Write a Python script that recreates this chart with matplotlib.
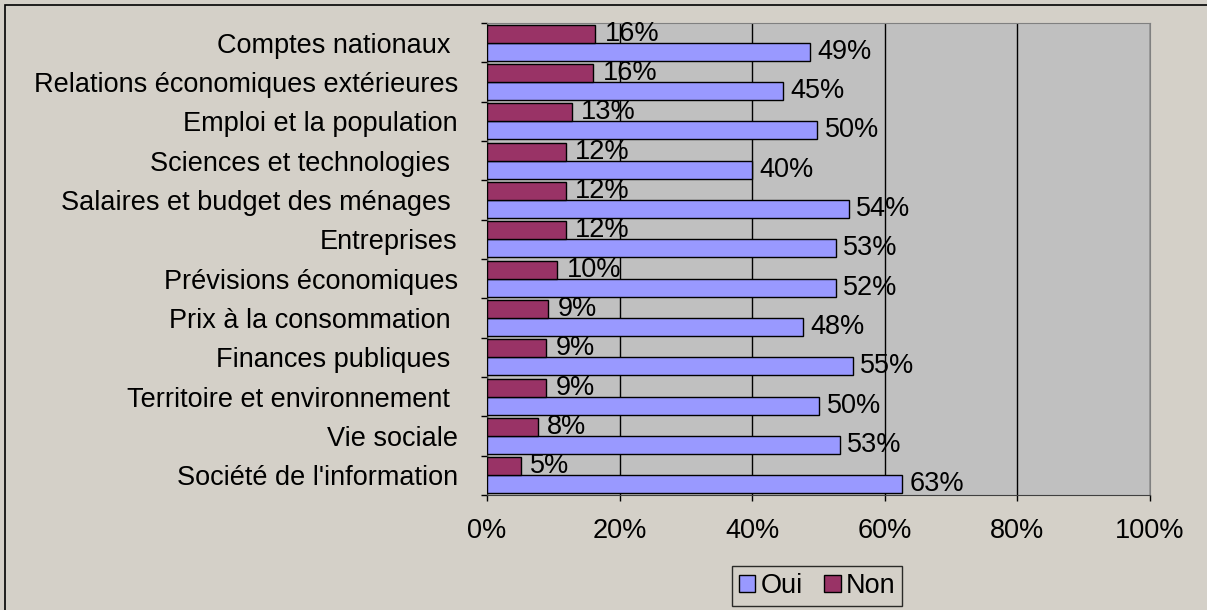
import matplotlib.pyplot as plt
from matplotlib.patches import Rectangle
import numpy as np

plt.rcParams['font.family'] = ['Liberation Sans', 'DejaVu Sans']

categories = ["Comptes nationaux ", "Relations économiques extérieures", "Emploi et la population",
              "Sciences et technologies ", "Salaires et budget des ménages ", "Entreprises",
              "Prévisions économiques", "Prix à la consommation ", "Finances publiques ",
              "Territoire et environnement ", "Vie sociale", "Société de l'information"]
oui = [48.7, 44.6, 49.8, 40.0, 54.6, 52.6, 52.6, 47.7, 55.2, 50.1, 53.2, 62.6]
non = [16.3, 16.0, 12.8, 11.9, 11.9, 11.9, 10.6, 9.2, 8.9, 8.9, 7.7, 5.1]
oui_labels = [49, 45, 50, 40, 54, 53, 52, 48, 55, 50, 53, 63]
non_labels = [16, 16, 13, 12, 12, 12, 10, 9, 9, 9, 8, 5]

fs = 19.5

fig = plt.figure(figsize=(12.07, 6.10), dpi=100, facecolor="#D4D0C8")
ax = fig.add_axes([0.4035, 0.1885, 0.5493, 0.7738])
ax.set_facecolor("#C0C0C0")

y = np.arange(len(categories))
h = 0.46
b_oui = ax.barh(y + h / 2, oui, height=h, color="#9999FF", edgecolor="black", linewidth=1, label="Oui", zorder=3)
b_non = ax.barh(y - h / 2, non, height=h, color="#993366", edgecolor="black", linewidth=1, label="Non", zorder=3)

for i in range(len(categories)):
    ax.text(oui[i] + 1.1, y[i] + h / 2, f"{oui_labels[i]}%", va="center", ha="left", fontsize=fs, zorder=4)
    ax.text(non[i] + 1.4, y[i] - h / 2, f"{non_labels[i]}%", va="center", ha="left", fontsize=fs, zorder=4)

ax.set_xlim(0, 100)
ax.set_ylim(len(categories) - 0.5, -0.5)
ax.set_xticks([0, 20, 40, 60, 80, 100])
ax.set_xticklabels(["0%", "20%", "40%", "60%", "80%", "100%"], fontsize=fs)
ax.set_yticks(np.arange(len(categories) + 1) - 0.5, minor=True)
ax.set_yticks(y)
ax.set_yticklabels(categories, fontsize=fs)
ax.tick_params(axis="y", which="major", length=0, pad=21)
ax.tick_params(axis="y", which="minor", length=4, width=1, color="black")
ax.tick_params(axis="x", length=4.3, width=1, pad=12, color="black")
ax.xaxis.grid(True, color="black", linewidth=1, zorder=1)
ax.set_axisbelow(True)

for side in ["top", "right"]:
    ax.spines[side].set_color("#808080")
for side in ["left", "bottom"]:
    ax.spines[side].set_color("#404040")

leg = fig.legend(handles=[b_oui, b_non], labels=["Oui", "Non"], loc="center", bbox_to_anchor=(0.677, 0.039),
                 ncol=2, fontsize=fs, frameon=True, fancybox=False, edgecolor="black",
                 facecolor="#D4D0C8", handlelength=0.6, handleheight=0.6, handletextpad=0.2,
                 columnspacing=0.8, borderpad=0.25, borderaxespad=0)
leg.get_frame().set_linewidth(1)

fig.patches.append(Rectangle((5 / 1207, -0.1), 1.2, 1.1 - 5 / 610, transform=fig.transFigure,
                             fill=False, edgecolor="black", linewidth=1.2))

fig.savefig("out.png", dpi=100, facecolor=fig.get_facecolor())
